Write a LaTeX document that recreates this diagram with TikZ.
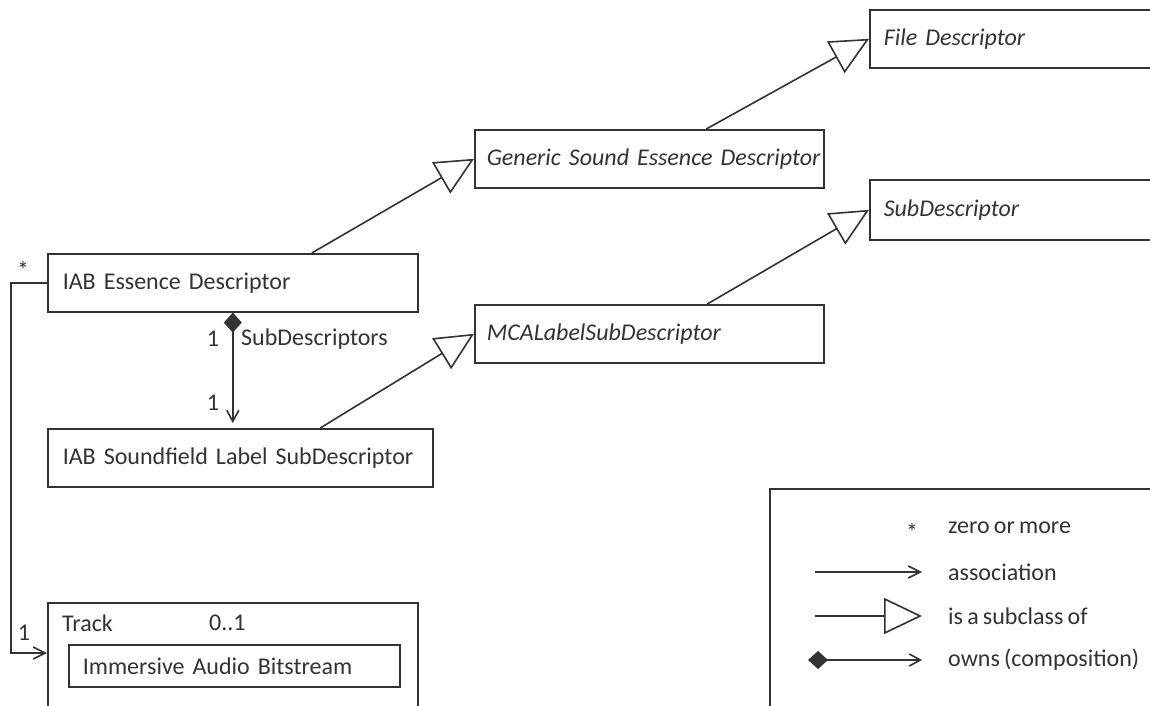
\documentclass[tikz,border=0pt]{standalone}
\usepackage{fontspec}
\setmainfont{Carlito}
\usetikzlibrary{arrows.meta,positioning}
\definecolor{ink}{HTML}{333333}
\newcommand{\umlfont}{\fontsize{24}{28}\selectfont\spaceskip=4.2pt\relax}
\tikzset{
  cls/.style={draw=ink,line width=1.6pt,rectangle,anchor=north west,minimum height=58pt,
    inner xsep=14pt,align=left,text=ink,font=\umlfont},
  gen/.style={draw=ink,line width=1.6pt,-{Triangle[open,length=38pt,width=36pt,fill=white]}},
  assoc/.style={draw=ink,line width=1.6pt,-{Straight Barb[length=12pt,width=12pt]}},
  comp/.style={draw=ink,line width=1.6pt,{Diamond[length=20pt,width=18pt]}-{Straight Barb[length=11pt,width=12pt]}},
  lbl/.style={text=ink,font=\umlfont,inner sep=0pt}
}
\begin{document}
\begin{tikzpicture}[x=1pt,y=-1pt]
  \clip (0,0) rectangle (1150,706);
  \fill[white] (0,0) rectangle (1150,706);
  % classes
  \node[cls,text width=262pt] (file) at (869,9) {\textit{File Descriptor}};
  \node[cls,text width=325pt,inner xsep=12pt] (generic) at (474,129) {\mbox{\textit{Generic Sound\hspace{8pt}Essence Descriptor}}};
  \node[cls,text width=262pt,minimum height=60pt] (subd) at (869,179) {\textit{SubDescriptor}};
  \node[cls,text width=340pt,inner xsep=15pt] (iabess) at (47,253) {IAB Essence Descriptor};
  \node[cls,text width=325pt,inner xsep=12pt] (mca) at (474,304) {\textit{MCALabelSubDescriptor}};
  \node[cls,text width=355pt,inner xsep=15pt] (sfl) at (47,428) {IAB Soundfield Label SubDescriptor};
  \node[cls,minimum width=370pt,minimum height=120pt] (track) at (47,602) {};
  \node[cls,text width=303pt,minimum height=42pt] (ext) at (68,644) {Immersive Audio Bitstream};
  \node[lbl,anchor=west] (tracklbl) at (62,623) {Track};
  \node[lbl,anchor=west] (trackmul) at (209,623) {0..1};
  % subclass links
  \draw[gen] ([xshift=57pt]generic.north) -- (file.west);
  \draw[gen] ([xshift=79pt]iabess.north) -- (generic.west);
  \draw[gen] ([xshift=58pt]mca.north) -- (subd.west);
  \draw[gen] ([xshift=80pt]sfl.north) -- (mca.west);
  % composition
  \draw[comp] (iabess.south) -- ([yshift=5pt]sfl.north -| iabess.south);
  \node[lbl] (m1) at (213,339) {1};
  \node[lbl,anchor=west] (role) at (241,339) {SubDescriptors};
  \node[lbl] (m2) at (213,403) {1};
  % association to track
  \draw[assoc] (iabess.west) -- ++(-36pt,0) |- ([yshift=-51pt]track.north west);
  \node[lbl] (star) at (23,270) {*};
  \node[lbl] (m3) at (24,633) {1};
  % legend
  \node[cls,minimum width=400pt,minimum height=240pt] (legend) at (769,488) {};
  \node[lbl] (kstar) at (912,532) {*};
  \node[lbl,anchor=west] (k1) at (948,528) {zero or more};
  \coordinate (a1) at (815,572); \coordinate (a2) at (922,572);
  \draw[assoc] (a1) -- (a2);
  \node[lbl,anchor=west] (k2) at (948,572) {association};
  \coordinate (b1) at (815,616); \coordinate (b2) at (922,616);
  \draw[gen] (b1) -- (b2);
  \node[lbl,anchor=west] (k3) at (948,616) {is a subclass of};
  \coordinate (c1) at (808,660); \coordinate (c2) at (922,660);
  \draw[comp] (c1) -- (c2);
  \node[lbl,anchor=west] (k4) at (948,660) {owns (composition)};
\end{tikzpicture}
\end{document}
